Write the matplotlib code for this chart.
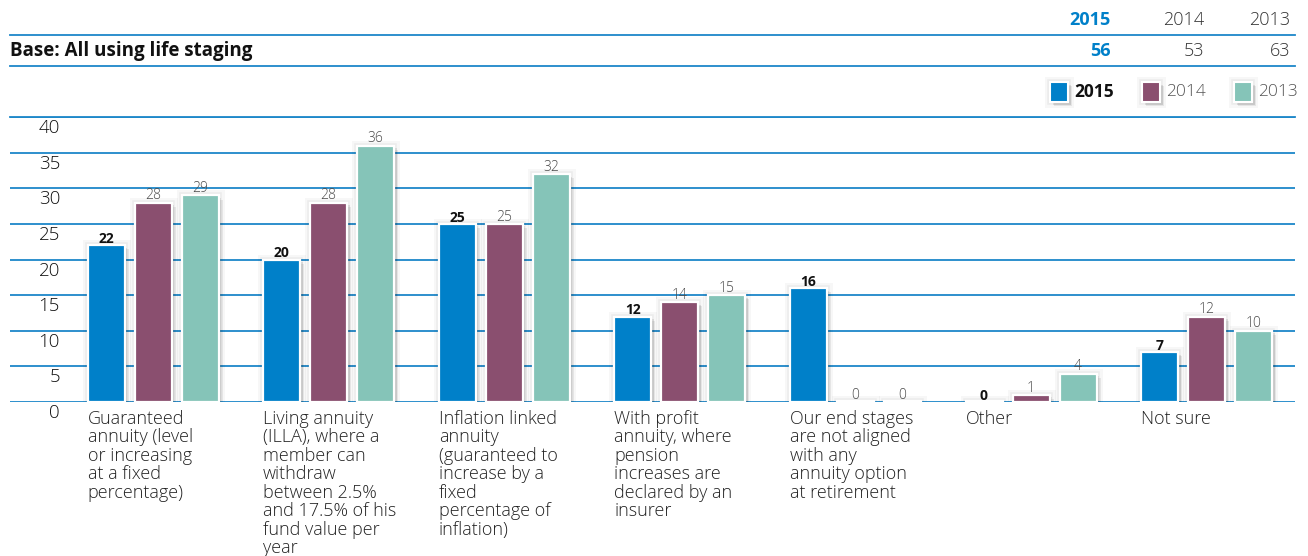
import matplotlib
matplotlib.use("Agg")
import matplotlib.pyplot as plt
import matplotlib.patheffects as pe
from matplotlib.transforms import ScaledTranslation, blended_transform_factory
import numpy as np

plt.rcParams['font.family'] = ['Open Sans', 'DejaVu Sans']

categories = [
    "Guaranteed\nannuity (level\nor increasing\nat a fixed\npercentage)",
    "Living annuity\n(ILLA), where a\nmember can\nwithdraw\nbetween 2.5%\nand 17.5% of his\nfund value per\nyear",
    "Inflation linked\nannuity\n(guaranteed to\nincrease by a\nfixed\npercentage of\ninflation)",
    "With profit\nannuity, where\npension\nincreases are\ndeclared by an\ninsurer",
    "Our end stages\nare not aligned\nwith any\nannuity option\nat retirement",
    "Other",
    "Not sure",
]
years = ["2015", "2014", "2013"]
values_2015 = [22, 20, 25, 12, 16, 0, 7]
values_2014 = [28, 28, 25, 14, 0, 1, 12]
values_2013 = [29, 36, 32, 15, 0, 4, 10]
base_counts = [56, 53, 63]
y_ticks = [0, 5, 10, 15, 20, 25, 30, 35, 40]

series = [values_2015, values_2014, values_2013]
colors = ["#0080C9", "#8A4F6F", "#85C4B8"]
label_colors = ["#111111", "#4a4a4a", "#4a4a4a"]
label_weights = ["bold", "light", "light"]
line_blue = "#1C87C9"

W, H = 1308, 556
fig = plt.figure(figsize=(W / 100, H / 100), dpi=100)

def fx(px):
    return px / W

def fy(py):
    return 1 - py / H

# Plot area
ax_left, ax_right, ax_top, ax_bottom = 10, 1295, 117, 402
ax = fig.add_axes([fx(ax_left), fy(ax_bottom), fx(ax_right - ax_left), fy(ax_top) - fy(ax_bottom)])
group_px = 175.6
x0 = (153 - ax_left) / group_px
ax.set_xlim(-x0, (ax_right - ax_left) / group_px - x0)
ax.set_ylim(0, 40)
ax.axis("off")

# Horizontal grid
for t in y_ticks:
    ax.axhline(t, color=line_blue, lw=1.3, zorder=1)

# Bars with a soft drop shadow and white outline
bar_w = 37 / group_px
pitch = 47 / group_px
x = np.arange(len(categories))
shadow = [
    pe.Stroke(linewidth=8, foreground=(0, 0, 0, 0.03)),
    pe.SimplePatchShadow(offset=(3, -3), shadow_rgbFace="#000000", alpha=0.07),
    pe.SimplePatchShadow(offset=(1.8, -1.8), shadow_rgbFace="#000000", alpha=0.09),
    pe.Stroke(linewidth=4, foreground=(0, 0, 0, 0.045)),
    pe.Normal(),
]
for i, vals in enumerate(series):
    xs = x + (i - 1) * pitch
    bars = ax.bar(xs, vals, width=bar_w, color=colors[i], edgecolor="white",
                  linewidth=1.6, zorder=3)
    for b in bars:
        b.set_path_effects(shadow)
        if b.get_height() == 0:
            b.set_height(0.15)
            b.set_facecolor("white")
    for xi, v in zip(xs, vals):
        ax.annotate(str(v), (xi, v), xytext=(0, -0.5), textcoords="offset points",
                    ha="center", va="bottom", fontsize=10,
                    color=label_colors[i], fontweight=label_weights[i], zorder=5)

# Y tick labels sit just below their grid lines
tr = blended_transform_factory(fig.transFigure, ax.transData) + \
    ScaledTranslation(0, -11 / 100, fig.dpi_scale_trans)
for t in y_ticks:
    fig.text(fx(60), t, str(t), transform=tr, ha="right", va="center",
             fontsize=13.5, color="#111111", fontweight="light")

# Category labels, left aligned with the first bar of each group
cat_tr = ax.transData + ScaledTranslation(0, -7.5 / 100, fig.dpi_scale_trans)
for xi, c in zip(x, categories):
    ax.text(xi - pitch - bar_w / 2, 0, c, transform=cat_tr, ha="left", va="top",
            fontsize=13, color="#222222", linespacing=1.04, clip_on=False,
            fontweight="light")

# Header table
for py in (35, 66, ax_top):
    fig.add_artist(plt.Line2D([fx(ax_left), fx(ax_right)], [fy(py), fy(py)],
                              color=line_blue, lw=1.3))
year_right = [1111, 1204, 1290]
for i, (yr, n) in enumerate(zip(years, base_counts)):
    col = "#0080C9" if i == 0 else "#333333"
    wt = "bold" if i == 0 else "light"
    fig.text(fx(year_right[i]), fy(20), yr, ha="right", va="center",
             fontsize=13, color=col, fontweight=wt)
    fig.text(fx(year_right[i]), fy(51), str(n), ha="right", va="center",
             fontsize=13, color=col, fontweight=wt)
fig.text(fx(10), fy(51), "Base: All using life staging", ha="left", va="center",
         fontsize=13.5, color="#111111", fontweight="bold")

# Legend
leg_x = [1050, 1142, 1234]
for i, yr in enumerate(years):
    sq = plt.Rectangle((fx(leg_x[i]), fy(102)), fx(18), fy(82) - fy(102),
                       transform=fig.transFigure, facecolor=colors[i],
                       edgecolor="white", linewidth=1.5)
    sq.set_path_effects(shadow)
    fig.add_artist(sq)
    fig.text(fx(leg_x[i] + 24), fy(92), yr, ha="left", va="center", fontsize=12.5,
             color="#111111" if i == 0 else "#555555",
             fontweight="bold" if i == 0 else "light")

fig.savefig("out.png", dpi=100)
